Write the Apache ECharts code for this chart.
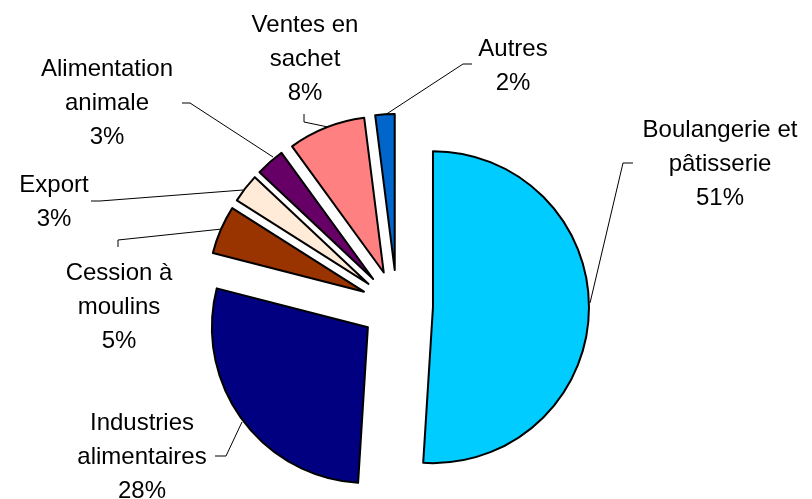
<!DOCTYPE html>
<html>
<head>
<meta charset="utf-8">
<script src="https://cdn.jsdelivr.net/npm/echarts@6/dist/echarts.min.js"></script>
<style>
  html, body { margin: 0; padding: 0; background: #fff; }
  #chart { width: 812px; height: 499px; }
</style>
</head>
<body>
<div id="chart"></div>
<script>
// Utilisation des farines : répartition par débouché (%)
const categories = [
  'Boulangerie et\npâtisserie',
  'Industries\nalimentaires',
  'Cession à\nmoulins',
  'Export',
  'Alimentation\nanimale',
  'Ventes en\nsachet',
  'Autres'
];
const shares = [51, 28, 5, 3, 3, 8, 2];
const sliceColors = ['#00CCFF', '#000080', '#993300', '#FFEBD7', '#660066', '#FF8080', '#0066CC'];

// Label anchors (text block centre) and leader-line routes, in pixels
const labelCentres = [
  [720, 164], [142, 457], [119, 307], [54, 202], [107, 103], [305, 59], [513, 66]
];
const leaderRoutes = [
  [[590, 303], [623, 163], [633, 163]],
  [[242, 422], [226, 456], [215, 456]],
  [[222, 229], [118, 240], [118, 247]],
  [[243, 190], [100, 201], [91, 201]],
  [[273, 157], [190, 103], [182, 103]],
  [[328, 127], [304, 122], [304, 114]],
  [[385, 115], [463, 64], [472, 64]]
];

const PIE_CENTER = [397, 306];
const PIE_RADIUS = 156;

const chart = echarts.init(document.getElementById('chart'), null, { renderer: 'canvas' });

// Exploded slices (every slice pulled out from the centre)
const sliceData = categories.map((name, i) => ({
  name: name,
  value: shares[i],
  selected: true,
  itemStyle: { color: sliceColors[i] }
}));

// Same values, unexploded and invisible: carries the outside labels
const labelData = categories.map((name, i) => ({
  name: name,
  value: shares[i]
}));

chart.setOption({
  animation: false,
  backgroundColor: '#ffffff',
  series: [
    {
      type: 'pie',
      name: 'labels',
      center: PIE_CENTER,
      radius: PIE_RADIUS,
      startAngle: 90,
      clockwise: true,
      silent: true,
      avoidLabelOverlap: false,
      itemStyle: { color: 'rgba(0,0,0,0)', borderWidth: 0 },
      emphasis: { disabled: true },
      label: {
        show: true,
        position: 'outside',
        formatter: '{b}\n{c}%',
        fontFamily: 'Liberation Sans, Arial, sans-serif',
        fontSize: 24,
        lineHeight: 34,
        color: '#000000',
        align: 'center'
      },
      labelLine: {
        show: true,
        length: 10,
        length2: 10,
        lineStyle: { color: '#000000', width: 1 }
      },
      labelLayout: function (params) {
        const i = params.dataIndex;
        return {
          x: labelCentres[i][0],
          y: labelCentres[i][1],
          align: 'center',
          verticalAlign: 'middle',
          labelLinePoints: leaderRoutes[i]
        };
      },
      data: labelData,
      z: 1
    },
    {
      type: 'pie',
      name: 'slices',
      center: PIE_CENTER,
      radius: PIE_RADIUS,
      startAngle: 90,
      clockwise: true,
      selectedMode: 'multiple',
      selectedOffset: 36,
      silent: true,
      itemStyle: { borderColor: '#000000', borderWidth: 2 },
      select: { itemStyle: { borderColor: '#000000', borderWidth: 2 } },
      emphasis: { disabled: true },
      label: { show: false },
      labelLine: { show: false },
      data: sliceData,
      z: 2
    }
  ]
});
</script>
</body>
</html>
